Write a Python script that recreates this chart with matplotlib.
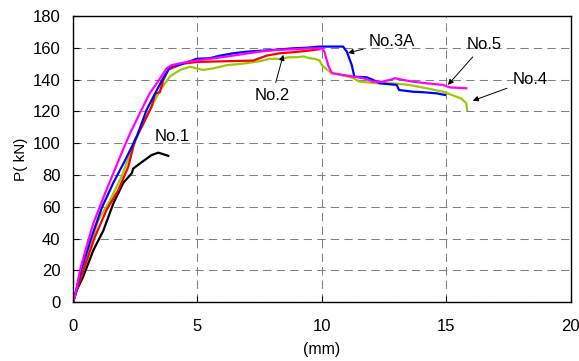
import numpy as np
import matplotlib.pyplot as plt

plt.rcParams['font.family'] = ['Liberation Sans', 'DejaVu Sans']

# Load-displacement curves (x: mm, y: kN)
no1_x = [0, 0.15, 0.41, 0.82, 1.22, 1.62, 2.02, 2.36, 2.42, 2.76, 3.16, 3.43, 3.63, 3.83]
no1_y = [0, 7.5, 16, 32.7, 45, 62, 75, 81, 84, 88, 92.5, 94, 93, 92]

no4_x = [0, 0.21, 0.68, 1.02, 1.49, 1.95, 2.36, 2.69, 3.09, 3.49, 3.9, 4.3, 4.7, 4.97, 5.23,
         5.63, 6.17, 6.84, 7.5, 7.9, 8.3, 8.7, 8.98, 9.25, 9.5, 9.7, 9.9, 10.0, 10.3, 10.4,
         11.25, 11.5, 12.2, 12.85, 13.5, 14.2, 14.87, 15.27, 15.6, 15.8, 15.83]
no4_y = [0, 12, 35, 51.6, 64, 79, 95.6, 108, 121, 133, 142, 146, 148, 147, 146,
         147, 149, 150, 151.5, 153, 153, 154, 154, 154.5, 153.4, 153, 152, 149, 145, 144,
         141, 138.7, 137.6, 137.6, 136.6, 134.5, 132.3, 130, 128, 125, 121]

no2_x = [0, 0.15, 0.55, 0.88, 1.35, 1.82, 2.22, 2.49, 2.82, 3.16, 3.3, 3.49, 3.63, 3.83, 3.9,
         4.43, 4.97, 6.17, 7.24, 7.5, 7.78, 8.31, 9.1, 9.9]
no2_y = [0, 7.5, 26, 41, 58, 70.5, 85, 102, 112, 123, 131, 132, 139.7, 146, 146.7,
         150, 151, 151.5, 151.9, 153.4, 155, 156.5, 157.5, 159]

no3a_x = [0, 0.08, 0.32, 0.75, 1.15, 1.62, 2.09, 2.56, 2.96, 3.36, 3.63, 3.9, 4.43, 4.97, 5.5,
          5.9, 6.44, 6.98, 7.5, 8.04, 8.85, 9.4, 9.9, 10.85, 11.0, 11.2, 11.3, 11.8, 12.06,
          12.33, 13.0, 13.1, 13.67, 14.07, 14.6, 14.94]
no3a_y = [0, 4, 20, 41, 59, 75, 89, 104, 121, 133, 141, 148, 150, 153, 153.4,
          155, 156.5, 157.5, 158, 158.6, 159.6, 160, 160.7, 160.7, 157.5, 149, 141.8, 141.4, 139.7,
          137.6, 136.6, 133.4, 132.3, 132, 131.3, 130.3]

no5_x = [0, 0.08, 0.28, 0.62, 0.82, 1.08, 1.29, 1.62, 1.95, 2.29, 2.69, 3.09, 3.41, 3.76, 3.96,
         4.57, 4.97, 5.5, 6.17, 6.84, 7.5, 8.18, 8.85, 9.5, 10.0, 10.1, 10.25, 10.4, 10.85,
         11.26, 11.66, 12.06, 12.4, 12.73, 12.93, 13.27, 13.67, 14.2, 14.87, 15.14, 15.8]
no5_y = [0, 3.3, 20, 39, 49.7, 60, 68.5, 81, 93.6, 106, 119, 131.5, 138.6, 147, 149,
         151, 152, 153, 154.4, 156, 157.5, 158.6, 159, 159.6, 159.6, 157.5, 149, 144, 142.9,
         141.8, 140.8, 138.6, 138.6, 139.7, 140.8, 139.7, 138.6, 137.6, 136.6, 135, 134.5]

fig = plt.figure(figsize=(5.79, 3.61), dpi=100)
ax = fig.add_axes([0.126, 0.163, 0.86, 0.793])

lw = 1.6
ax.plot(no1_x, no1_y, color='black', lw=lw)
ax.plot(no4_x, no4_y, color='#99cc00', lw=lw)
ax.plot(no2_x, no2_y, color='#ff0000', lw=lw)
ax.plot(no3a_x, no3a_y, color='#0000ff', lw=lw)
ax.plot(no5_x, no5_y, color='#ff00ff', lw=lw)

ax.set_xlim(0, 20)
ax.set_ylim(0, 180)
ax.set_xticks([0, 5, 10, 15, 20])
ax.set_yticks(np.arange(0, 181, 20))
ax.tick_params(direction='in', labelsize=12, length=4)
ax.tick_params(axis='x', pad=12)
ax.tick_params(axis='y', pad=9)
ax.grid(True, color='#808080', linestyle=(0, (8, 5)), linewidth=0.75)
for s in ax.spines.values():
    s.set_linewidth(1.0)

ax.set_ylabel('P( kN)', fontsize=11)
ax.yaxis.set_label_coords(-0.09, 0.5)
ax.set_xlabel('(mm)', fontsize=11.5)
ax.xaxis.set_label_coords(0.5, -0.14)

arrow = dict(arrowstyle='-|>', color='black', lw=0.7, mutation_scale=8, shrinkA=2, shrinkB=0)
ax.text(4.0, 104, 'No.1', fontsize=12, ha='center', va='center')
ax.annotate('No.2', xy=(8.45, 155.5), xytext=(8.0, 130), fontsize=12,
            ha='center', va='center', arrowprops=arrow)
ax.annotate('No.3A', xy=(11.05, 156.7), xytext=(12.8, 163.6), fontsize=12,
            ha='center', va='center', arrowprops=arrow)
ax.annotate('No.5', xy=(15.06, 136.6), xytext=(16.5, 162), fontsize=12,
            ha='center', va='center', arrowprops=arrow)
ax.annotate('No.4', xy=(16.06, 126.7), xytext=(18.35, 139.7), fontsize=12,
            ha='center', va='center', arrowprops=arrow)

fig.savefig('out.png', dpi=100)
